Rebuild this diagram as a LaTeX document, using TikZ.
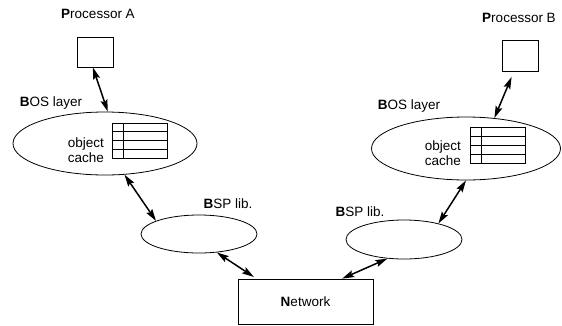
\documentclass[tikz,border=0pt]{standalone}
\usepackage{fontspec}
\setmainfont{Liberation Sans}
\usepackage{tikz}
\usetikzlibrary{shapes.geometric,arrows.meta}

\begin{document}
\begin{tikzpicture}[x=1pt, y=-1pt, font=\fontsize{13.5}{15}\selectfont,
    cpu/.style={draw, line width=0.8pt, minimum width=36pt, minimum height=30pt,
                inner sep=0pt},
    layer/.style={draw, ellipse, line width=0.8pt, inner sep=0pt},
    lbl/.style={inner sep=0pt},
    link/.style={{Stealth[length=12pt,width=7pt,inset=2pt]}-{Stealth[length=12pt,width=7pt,inset=2pt]},
                 line width=1.5pt}]
  \useasboundingbox (0,0) rectangle (562,325);

  % left side
  \node[lbl] (labA) at (98,14) {\textbf{P}rocessor A};
  \node[cpu] (procA) at (95,52) {};
  \node[lbl] (labBosA) at (51,103) {\textbf{B}OS layer};
  \node[layer, minimum width=184pt, minimum height=63pt] (bosA) at (105,143.5) {};
  \node[lbl, align=right, anchor=east] (cacheA) at (104,150) {object\\cache};
  \draw[line width=0.7pt] (112,123) rectangle (167,158);
  \foreach \r in {1,2,3} \draw[line width=0.7pt] (112,123+8.75*\r) -- (167,123+8.75*\r);
  \draw[line width=0.7pt] (123,123) -- (123,158);
  \node[lbl] (labBspA) at (228,204) {\textbf{B}SP lib.};
  \node[layer, minimum width=116pt, minimum height=38pt] (bspA) at (199,234) {};

  % right side
  \node[lbl] (labB) at (519,18) {\textbf{P}rocessor B};
  \node[cpu, minimum height=31pt] (procB) at (520,55.5) {};
  \node[lbl] (labBosB) at (409,106) {\textbf{B}OS layer};
  \node[layer, minimum width=189pt, minimum height=63pt] (bosB) at (466,148.5) {};
  \node[lbl, align=right, anchor=east] (cacheB) at (461,153) {object\\cache};
  \draw[line width=0.7pt] (470,127) rectangle (525,163);
  \foreach \r in {1,2,3} \draw[line width=0.7pt] (470,127+9*\r) -- (525,127+9*\r);
  \draw[line width=0.7pt] (481,127) -- (481,163);
  \node[lbl] (labBspB) at (360,212) {\textbf{B}SP lib.};
  \node[layer, minimum width=116pt, minimum height=39pt] (bspB) at (404,239.5) {};

  % network
  \node[draw, line width=0.8pt, minimum width=135pt, minimum height=45pt, inner sep=0pt]
        (net) at (305.5,301.5) {\textbf{N}etwork};

  % links
  \draw[link] (procA.262) -- (bosA.85);
  \draw[link] (bosA.-58) -- (bspA.163);
  \draw[link, shorten >=3pt] (bspA.-46) -- (net.155);
  \draw[link, shorten <=6pt] (procB.-111) -- (bosB.47);
  \draw[link] (bosB.south) -- (bspB.25);
  \draw[link] (bspB.-131) -- (net.32);
\end{tikzpicture}
\end{document}
